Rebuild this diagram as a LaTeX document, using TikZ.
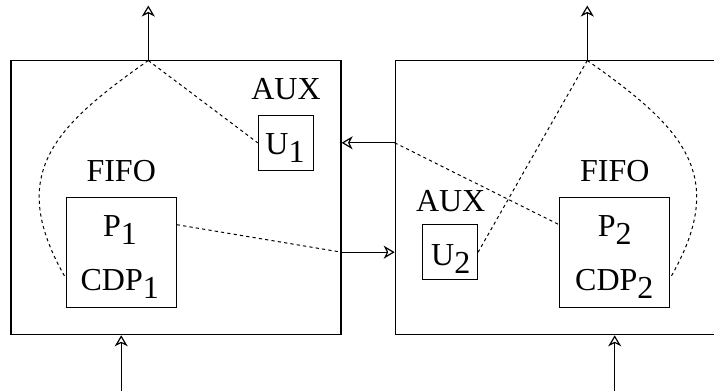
\documentclass[tikz,border=0pt]{standalone}
\usepackage{fontspec}
\setmainfont{Liberation Serif}
\usetikzlibrary{arrows.meta}
\newcommand{\subidx}[1]{\raisebox{-4pt}{#1}}
\begin{document}
\begin{tikzpicture}[x=0.5pt,y=-0.5pt,
    box/.style={draw,line width=0.6pt,inner sep=0pt},
    lbl/.style={anchor=base,inner sep=0pt,font=\fontsize{16}{19}\selectfont},
    flow/.style={line width=0.6pt,-{Stealth[open,length=5.5pt,width=6.5pt,inset=1.6pt]}},
    link/.style={line width=0.5pt,dash pattern=on 1.6pt off 1.6pt}]
            \useasboundingbox (0,0) rectangle (714,391);
            \clip (0,0) rectangle (714,391);
            \node[box, minimum width=165pt, minimum height=137.1pt] (lbox) at (176,197.6) {};
            \node[box, minimum width=165pt, minimum height=137.1pt] (rbox) at (560.3,197.6) {};
            \node[box, minimum size=27.5pt] (u1box) at (285.8,142.8) {};
            \node[box, minimum size=55pt] (p1box) at (121.2,252.3) {};
            \node[box, minimum size=27.5pt] (u2box) at (450,252.2) {};
            \node[box, minimum size=55pt] (p2box) at (614.7,252.3) {};
            \node[lbl] (aux1) at (286,99.3) {AUX};
            \node[lbl] (fifo1) at (121.2,181.7) {FIFO};
            \node[lbl] (u1) at (285,155) {U\subidx{1}};
            \node[lbl] (p1) at (120,236.7) {P\subidx{1}};
            \node[lbl] (cdp1) at (119.7,290.7) {CDP\subidx{1}};
            \node[lbl] (aux2) at (450.7,211.7) {AUX};
            \node[lbl] (fifo2) at (614.8,181.7) {FIFO};
            \node[lbl] (u2) at (450.7,265) {U\subidx{2}};
            \node[lbl] (p2) at (614.8,236.7) {P\subidx{2}};
            \node[lbl] (cdp2) at (614.3,290.7) {CDP\subidx{2}};
            \coordinate (ltop) at (148.3,60.5);
            \coordinate (lout) at (148.3,5.5);
            \coordinate (lin) at (121.2,391);
            \coordinate (rtop) at (587.3,60.5);
            \coordinate (rout) at (587.3,5.5);
            \coordinate (rin) at (614.7,391);
            \draw[flow] (ltop) -- (lout);
            \draw[flow] (rtop) -- (rout);
            \draw[flow] (lin) -- (p1box |- lbox.south);
            \draw[flow] (rin) -- (p2box |- rbox.south);
            \draw[flow] (rbox.west |- u1box) -- (lbox.east |- u1box);
            \draw[flow] (lbox.east |- u2box) -- (rbox.west |- u2box);
            \draw[link] (ltop) -- (u1box.west);
            \draw[link] (ltop) to[out=215, in=120, looseness=1.3] ([yshift=-12.8pt]p1box.west);
            \draw[link] (rtop) -- (u2box.east);
            \draw[link] (rtop) to[out=-35, in=60, looseness=1.3] ([yshift=-12.8pt]p2box.east);
            \draw[link] ([yshift=13.8pt]p1box.east) -- (lbox.east |- u2box);
            \draw[link] (rbox.west |- u1box) -- ([yshift=13.8pt]p2box.west);
        \end{tikzpicture}
\end{document}
